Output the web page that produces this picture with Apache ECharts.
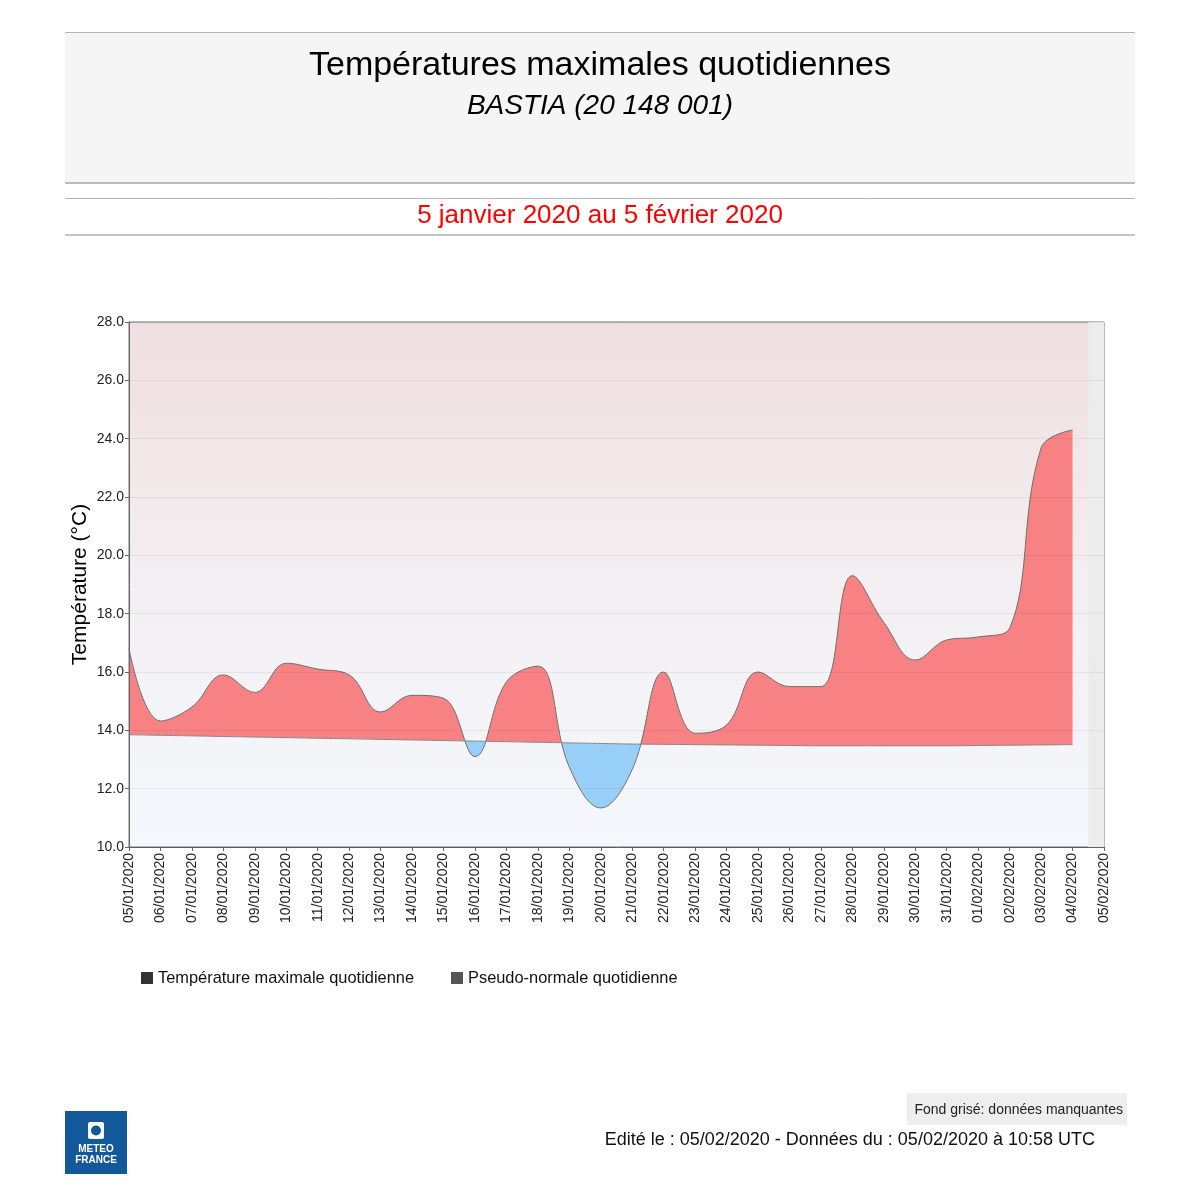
<!DOCTYPE html>
<html><head><meta charset="utf-8">
<script src="https://cdn.jsdelivr.net/npm/echarts@6/dist/echarts.min.js"></script>
<style>html,body{margin:0;padding:0;background:#fff}#c{width:1200px;height:1200px}</style>
</head><body><div id="c"></div>
<script>
const dates = ['05/01/2020','06/01/2020','07/01/2020','08/01/2020','09/01/2020','10/01/2020','11/01/2020','12/01/2020','13/01/2020','14/01/2020','15/01/2020','16/01/2020','17/01/2020','18/01/2020','19/01/2020','20/01/2020','21/01/2020','22/01/2020','23/01/2020','24/01/2020','25/01/2020','26/01/2020','27/01/2020','28/01/2020','29/01/2020','30/01/2020','31/01/2020','01/02/2020','02/02/2020','03/02/2020','04/02/2020','05/02/2020'];
const tmax = [16.8,14.32,14.8,15.9,15.3,16.3,16.1,15.9,14.63,15.2,15.1,13.1,15.66,16.2,12.74,11.34,12.66,16.0,13.9,14.18,16.0,15.5,15.5,19.3,17.7,16.41,17.1,17.2,17.5,23.68,24.3];
const normal = [13.85,13.83,13.81,13.79,13.77,13.75,13.73,13.71,13.69,13.67,13.65,13.63,13.61,13.59,13.57,13.55,13.53,13.52,13.51,13.50,13.49,13.48,13.47,13.47,13.47,13.47,13.47,13.48,13.49,13.50,13.51];
const yTicks = {min: 10, max: 28, step: 2};
const missingFrom = 30.5, missingTo = 31;

const RED = '#f88283', BLUE = '#98cff8';
const SMOOTH = 0.4;
const diff = tmax.map((v, i) => +(v - normal[i]).toFixed(3));
const last = diff.length - 1;

// gradient stops from a list of crossing fractions (0..1)
function makeStops(cuts) {
  const b = [0].concat(cuts, [1]);
  const s = [];
  let sign = diff[0] > 0;
  for (let k = 0; k < b.length - 1; k++) {
    const c = sign ? RED : BLUE;
    s.push({offset: b[k], color: c}, {offset: b[k + 1], color: c});
    sign = !sign;
  }
  return s;
}
// first guess: linear crossings in data space
const linCuts = [];
for (let i = 0; i < last; i++) {
  const a = diff[i], b = diff[i + 1];
  if ((a > 0) !== (b > 0)) linCuts.push((i + a / (a - b)) / last);
}

const chart = echarts.init(document.getElementById('c'), null, {renderer: 'canvas'});
const FF = '"Liberation Sans", Arial, sans-serif';
chart.setOption({
  animation: false,
  textStyle: {fontFamily: FF},
  grid: {
    left: 129, right: 96, top: 322, bottom: 353, show: true,
    backgroundColor: new echarts.graphic.LinearGradient(0, 0, 0, 1, [
      {offset: 0, color: '#f0dfe0'}, {offset: 0.55, color: '#f3f0f3'}, {offset: 1, color: '#f5f8fd'}]),
    borderColor: '#777', borderWidth: 1
  },
  legend: {
    left: 136, top: 965, icon: 'rect', itemWidth: 12, itemHeight: 12, itemGap: 37,
    textStyle: {fontSize: 16.4, color: '#111', fontFamily: FF},
    data: [
      {name: 'Température maximale quotidienne', itemStyle: {color: '#333'}},
      {name: 'Pseudo-normale quotidienne', itemStyle: {color: '#555'}}
    ]
  },
  xAxis: [{
    type: 'category', data: dates, boundaryGap: false,
    axisLine: {lineStyle: {color: '#666'}},
    axisTick: {show: true, length: 4, interval: 0, lineStyle: {color: '#666'}},
    splitLine: {show: false},
    axisLabel: {rotate: 90, fontSize: 14, color: '#222', margin: 6, interval: 0}
  }, {
    type: 'value', min: 0, max: dates.length - 1, show: false
  }],
  yAxis: {
    type: 'value', min: yTicks.min, max: yTicks.max, interval: yTicks.step, z: 5,
    name: 'Température (°C)', nameLocation: 'middle', nameGap: 38, nameMoveOverlap: false,
    nameTextStyle: {fontSize: 21, color: '#000', fontFamily: FF},
    axisLine: {show: true, lineStyle: {color: '#666'}},
    axisTick: {show: true, length: 4, lineStyle: {color: '#666'}},
    splitLine: {lineStyle: {color: 'rgba(0,0,0,0.06)'}},
    axisLabel: {fontSize: 14, color: '#222', margin: 5, formatter: v => v.toFixed(1)}
  },
  series: [
    {
      name: 'Pseudo-normale quotidienne', type: 'line', stack: 't', stackStrategy: 'all',
      z: 3, smooth: SMOOTH, showSymbol: false, symbol: 'none',
      lineStyle: {color: '#888', width: 1},
      data: normal
    },
    {
      name: 'Température maximale quotidienne', type: 'line', stack: 't', stackStrategy: 'all',
      z: 2, smooth: SMOOTH, showSymbol: false, symbol: 'none',
      lineStyle: {color: '#6f6f6f', width: 1},
      areaStyle: {opacity: 1, color: new echarts.graphic.LinearGradient(0, 0, 1, 0, makeStops(linCuts))},
      data: diff
    },
    {
      name: 'missing', type: 'line', xAxisIndex: 1, data: [], z: 1,
      markArea: {
        silent: true,
        itemStyle: {color: '#ececec'},
        data: [[{xAxis: missingFrom}, {xAxis: missingTo}]]
      }
    }
  ],
  graphic: [
    {type: 'rect', shape: {x: 65, y: 32, width: 1070, height: 151}, style: {fill: '#f5f5f5'}, silent: true},
    {type: 'line', shape: {x1: 65, y1: 32.5, x2: 1135, y2: 32.5}, style: {stroke: '#b4b4b4', lineWidth: 1}},
    {type: 'line', shape: {x1: 65, y1: 183, x2: 1135, y2: 183}, style: {stroke: '#bcbcbc', lineWidth: 2}},
    {type: 'line', shape: {x1: 65, y1: 198.5, x2: 1135, y2: 198.5}, style: {stroke: '#b4b4b4', lineWidth: 1}},
    {type: 'line', shape: {x1: 65, y1: 235, x2: 1135, y2: 235}, style: {stroke: '#c4c4c4', lineWidth: 2}},
    {type: 'text', x: 600, y: 66, style: {text: 'Températures maximales quotidiennes', font: '34px ' + FF, fill: '#000', textAlign: 'center', textVerticalAlign: 'middle'}},
    {type: 'text', x: 600, y: 106, style: {text: 'BASTIA (20 148 001)', font: 'italic 28px ' + FF, fill: '#000', textAlign: 'center', textVerticalAlign: 'middle'}},
    {type: 'text', x: 600, y: 216, style: {text: '5 janvier 2020 au 5 février 2020', font: '26px ' + FF, fill: '#ff0000', textAlign: 'center', textVerticalAlign: 'middle'}},
    {type: 'rect', shape: {x: 907, y: 1093, width: 220, height: 32}, style: {fill: '#eeeeee'}},
    {type: 'text', x: 1123, y: 1110, style: {text: 'Fond grisé: données manquantes', font: '14px ' + FF, fill: '#222', textAlign: 'right', textVerticalAlign: 'middle'}},
    {type: 'text', x: 1095, y: 1140, style: {text: 'Edité le : 05/02/2020 - Données du : 05/02/2020 à 10:58 UTC', font: '18px ' + FF, fill: '#111', textAlign: 'right', textVerticalAlign: 'middle'}},
    {type: 'rect', shape: {x: 65, y: 1111, width: 62, height: 63}, style: {fill: '#14589c'}},
    {type: 'rect', shape: {x: 88, y: 1122, width: 16, height: 17, r: 2}, style: {fill: '#fff'}},
    {type: 'circle', shape: {cx: 96, cy: 1130.5, r: 5}, style: {fill: '#14589c'}},
    {type: 'text', x: 96, y: 1149, style: {text: 'METEO', font: 'bold 10px ' + FF, fill: '#fff', textAlign: 'center', textVerticalAlign: 'middle'}},
    {type: 'text', x: 96, y: 1160, style: {text: 'FRANCE', font: 'bold 10px ' + FF, fill: '#fff', textAlign: 'center', textVerticalAlign: 'middle'}}
  ]
});

// Refine colour split: find where the two smoothed curves (as ECharts draws them) cross.
try {
  const toPx = (i, v) => chart.convertToPixel({xAxisIndex: 0, yAxisIndex: 0}, [i, v]);
  function sampleSmooth(pts, smooth) {
    const out = [];
    const n = pts.length;
    let cpx0 = pts[0][0], cpy0 = pts[0][1];
    out.push(pts[0]);
    for (let k = 1; k < n; k++) {
      const [x, y] = pts[k], [px, py] = pts[k - 1];
      let cpx1, cpy1, ncx = x, ncy = y;
      if (k >= n - 1) { cpx1 = x; cpy1 = y; }
      else {
        const [nx, ny] = pts[k + 1];
        let vx = nx - px, vy = ny - py;
        const dx0 = x - px, dx1 = nx - x, dy0 = y - py, dy1 = ny - y;
        const lp = Math.sqrt(dx0 * dx0 + dy0 * dy0), ln = Math.sqrt(dx1 * dx1 + dy1 * dy1);
        const r = ln / (ln + lp);
        ncx = x + vx * smooth * r; ncy = y + vy * smooth * r;
        ncx = Math.min(ncx, Math.max(nx, x)); ncy = Math.min(ncy, Math.max(ny, y));
        ncx = Math.max(ncx, Math.min(nx, x)); ncy = Math.max(ncy, Math.min(ny, y));
        vx = ncx - x; vy = ncy - y;
        cpx1 = x - vx * lp / ln; cpy1 = y - vy * lp / ln;
        cpx1 = Math.min(cpx1, Math.max(px, x)); cpy1 = Math.min(cpy1, Math.max(py, y));
        cpx1 = Math.max(cpx1, Math.min(px, x)); cpy1 = Math.max(cpy1, Math.min(py, y));
        vx = x - cpx1; vy = y - cpy1;
        ncx = x + vx * ln / lp; ncy = y + vy * ln / lp;
      }
      for (let s = 1; s <= 200; s++) {
        const t = s / 200, u = 1 - t;
        out.push([
          u * u * u * px + 3 * u * u * t * cpx0 + 3 * u * t * t * cpx1 + t * t * t * x,
          u * u * u * py + 3 * u * u * t * cpy0 + 3 * u * t * t * cpy1 + t * t * t * y
        ]);
      }
      cpx0 = ncx; cpy0 = ncy;
    }
    return out;
  }
  function yAt(samples, X) {
    let lo = 0, hi = samples.length - 1;
    while (hi - lo > 1) { const m = (lo + hi) >> 1; if (samples[m][0] <= X) lo = m; else hi = m; }
    const a = samples[lo], b = samples[hi];
    const t = b[0] === a[0] ? 0 : (X - a[0]) / (b[0] - a[0]);
    return a[1] + (b[1] - a[1]) * t;
  }
  const up = sampleSmooth(tmax.map((v, i) => toPx(i, v)), SMOOTH);
  const lo = sampleSmooth(normal.map((v, i) => toPx(i, v)), SMOOTH);
  const x0 = toPx(0, normal[0])[0], x1 = toPx(last, normal[last])[0];
  const cuts = [];
  let prev = yAt(lo, x0) - yAt(up, x0);
  for (let X = x0 + 0.1; X <= x1; X += 0.1) {
    const d = yAt(lo, X) - yAt(up, X);
    if ((d > 0) !== (prev > 0)) cuts.push((X - 0.05 - x0) / (x1 - x0));
    prev = d;
  }
  if (cuts.length === linCuts.length) {
    chart.setOption({series: [{}, {areaStyle: {opacity: 1, color: new echarts.graphic.LinearGradient(0, 0, 1, 0, makeStops(cuts))}}]});
  }
} catch (e) { console.error(e); }
</script></body></html>
